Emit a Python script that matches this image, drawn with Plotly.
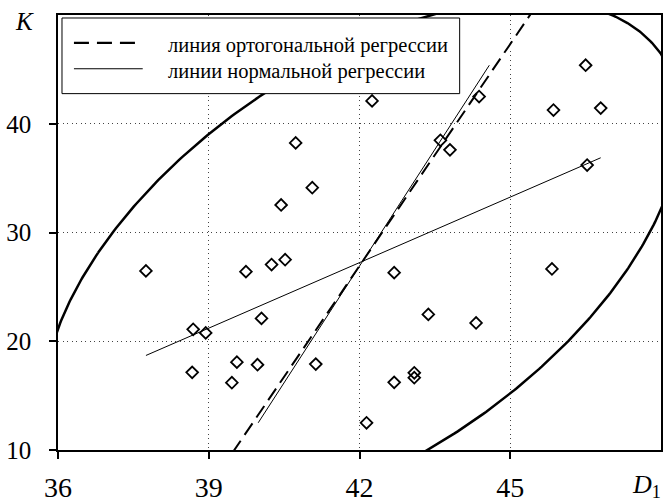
import numpy as np
import plotly.graph_objects as go

# ---- data ----
D1 = [37.75, 38.69, 38.94, 38.67, 39.46, 39.56, 39.97, 40.05, 39.74, 40.25,
      40.52, 40.44, 41.06, 40.73, 41.13, 42.25, 44.38, 43.61, 43.80, 46.50,
      45.86, 46.80, 46.53, 42.69, 45.83, 43.37, 44.32, 43.09, 43.09, 42.69,
      42.14]
K = [26.47, 21.10, 20.77, 17.14, 16.19, 18.08, 17.84, 22.10, 26.40, 27.05,
     27.50, 32.53, 34.12, 38.24, 17.90, 42.10, 42.50, 38.48, 37.60, 45.38,
     41.26, 41.44, 36.20, 26.31, 26.65, 22.47, 21.68, 17.10, 16.65, 16.22,
     12.50]

X_TICKS = [36, 39, 42, 45]
X_TICK_LABELS = ["36", "39", "42", "45"]
Y_TICKS = [10, 20, 30, 40]
Y_TICK_LABELS = ["10", "20", "30", "40"]
X_RANGE = [36, 48]
Y_RANGE = [10, 50]
CHI2_95 = 5.991          # 95% concentration ellipse, 2 d.o.f.

LEGEND_LABELS = ["линия ортогональной регрессии", "линии нормальной регрессии"]
X_TITLE = "<i>D</i><sub>1</sub>"
Y_TITLE = "<i>K</i>"

# ---- statistics ----
x = np.array(D1)
y = np.array(K)
mx, my = x.mean(), y.mean()
S = np.cov(x, y)
sxx, sxy, syy = S[0, 0], S[0, 1], S[1, 1]

# regression of K on D1
l1x = np.array([x.min(), x.max()])
l1y = my + sxy / sxx * (l1x - mx)
# regression of D1 on K
l2y = np.array([y.min(), y.max()])
l2x = mx + sxy / syy * (l2y - my)
# orthogonal regression (major axis)
vals, vecs = np.linalg.eigh(S)
vmaj = vecs[:, np.argmax(vals)]
slope_o = vmaj[1] / vmaj[0]
oy = np.array([Y_RANGE[0] - 5, Y_RANGE[1] + 5])
ox = mx + (oy - my) / slope_o
# ellipse
t = np.linspace(0, 2 * np.pi, 600)
circ = np.vstack([np.cos(t), np.sin(t)])
pts = vecs @ np.diag(np.sqrt(vals * CHI2_95)) @ circ
ex = mx + pts[0]
ey = my + pts[1]

FONT = "Liberation Serif"

fig = go.Figure()
fig.add_trace(go.Scatter(x=ex, y=ey, mode="lines",
                         line=dict(color="black", width=2.5), hoverinfo="skip"))
fig.add_trace(go.Scatter(x=l1x, y=l1y, mode="lines",
                         line=dict(color="black", width=1)))
fig.add_trace(go.Scatter(x=l2x, y=l2y, mode="lines",
                         line=dict(color="black", width=1)))
fig.add_trace(go.Scatter(x=ox, y=oy, mode="lines",
                         line=dict(color="black", width=2, dash="14px,7px")))
fig.add_trace(go.Scatter(x=D1, y=K, mode="markers",
                         marker=dict(symbol="diamond-open", size=9,
                                     color="black", line=dict(width=1.8, color="black"))))

# pixel -> paper helpers for the plot area
PL, PR, PT, PB = 58, 663, 15, 452
def px(p):
    return (p - PL) / (PR - PL)
def py(p):
    return (PB - p) / (PB - PT)

shapes = [
    dict(type="rect", xref="paper", yref="paper", layer="above",
         x0=px(62), x1=px(461), y0=py(94), y1=py(18),
         fillcolor="white", line=dict(color="black", width=1)),
    dict(type="line", xref="paper", yref="paper", layer="above",
         x0=px(74), x1=px(143), y0=py(43), y1=py(43),
         line=dict(color="black", width=2.2, dash="15px,8px")),
    dict(type="line", xref="paper", yref="paper", layer="above",
         x0=px(74), x1=px(143), y0=py(69), y1=py(69),
         line=dict(color="black", width=1)),
]
annotations = [
    dict(xref="paper", yref="paper", x=px(166), y=py(46), xanchor="left", yanchor="middle",
         text=LEGEND_LABELS[0], showarrow=False, font=dict(family=FONT, size=20.5, color="black")),
    dict(xref="paper", yref="paper", x=px(166), y=py(72), xanchor="left", yanchor="middle",
         text=LEGEND_LABELS[1], showarrow=False, font=dict(family=FONT, size=20.5, color="black")),
    dict(xref="paper", yref="paper", x=px(24), y=py(22), xanchor="center", yanchor="middle",
         text=Y_TITLE, showarrow=False, font=dict(family=FONT, size=25, color="black")),
    dict(xref="paper", yref="paper", x=px(632), y=py(488), xanchor="left", yanchor="middle",
         text=X_TITLE, showarrow=False, font=dict(family=FONT, size=26, color="black")),
]

fig.update_layout(
    width=664, height=504,
    margin=dict(l=PL, r=664 - PR, t=PT, b=504 - PB),
    paper_bgcolor="white", plot_bgcolor="white",
    showlegend=False,
    shapes=shapes, annotations=annotations,
    font=dict(family=FONT, color="black"),
)
fig.update_xaxes(range=X_RANGE, tickvals=X_TICKS, ticktext=X_TICK_LABELS,
                 showgrid=True, gridcolor="#444", griddash="1px,3.5px", gridwidth=1,
                 showline=True, linecolor="black", linewidth=1.5, mirror=True,
                 ticks="outside", ticklen=7, tickcolor="black", tickwidth=1.5,
                 tickfont=dict(family=FONT, size=28, color="black"),
                 ticklabelstandoff=5, zeroline=False)
fig.update_yaxes(range=Y_RANGE, tickvals=Y_TICKS, ticktext=Y_TICK_LABELS,
                 showgrid=True, gridcolor="#444", griddash="1px,3.5px", gridwidth=1,
                 showline=True, linecolor="black", linewidth=1.5, mirror=True,
                 ticks="outside", ticklen=7, tickcolor="black", tickwidth=1.5,
                 tickfont=dict(family=FONT, size=25, color="black"),
                 ticklabelstandoff=13, zeroline=False)

fig.write_html("out.html", config={"displayModeBar": False})
